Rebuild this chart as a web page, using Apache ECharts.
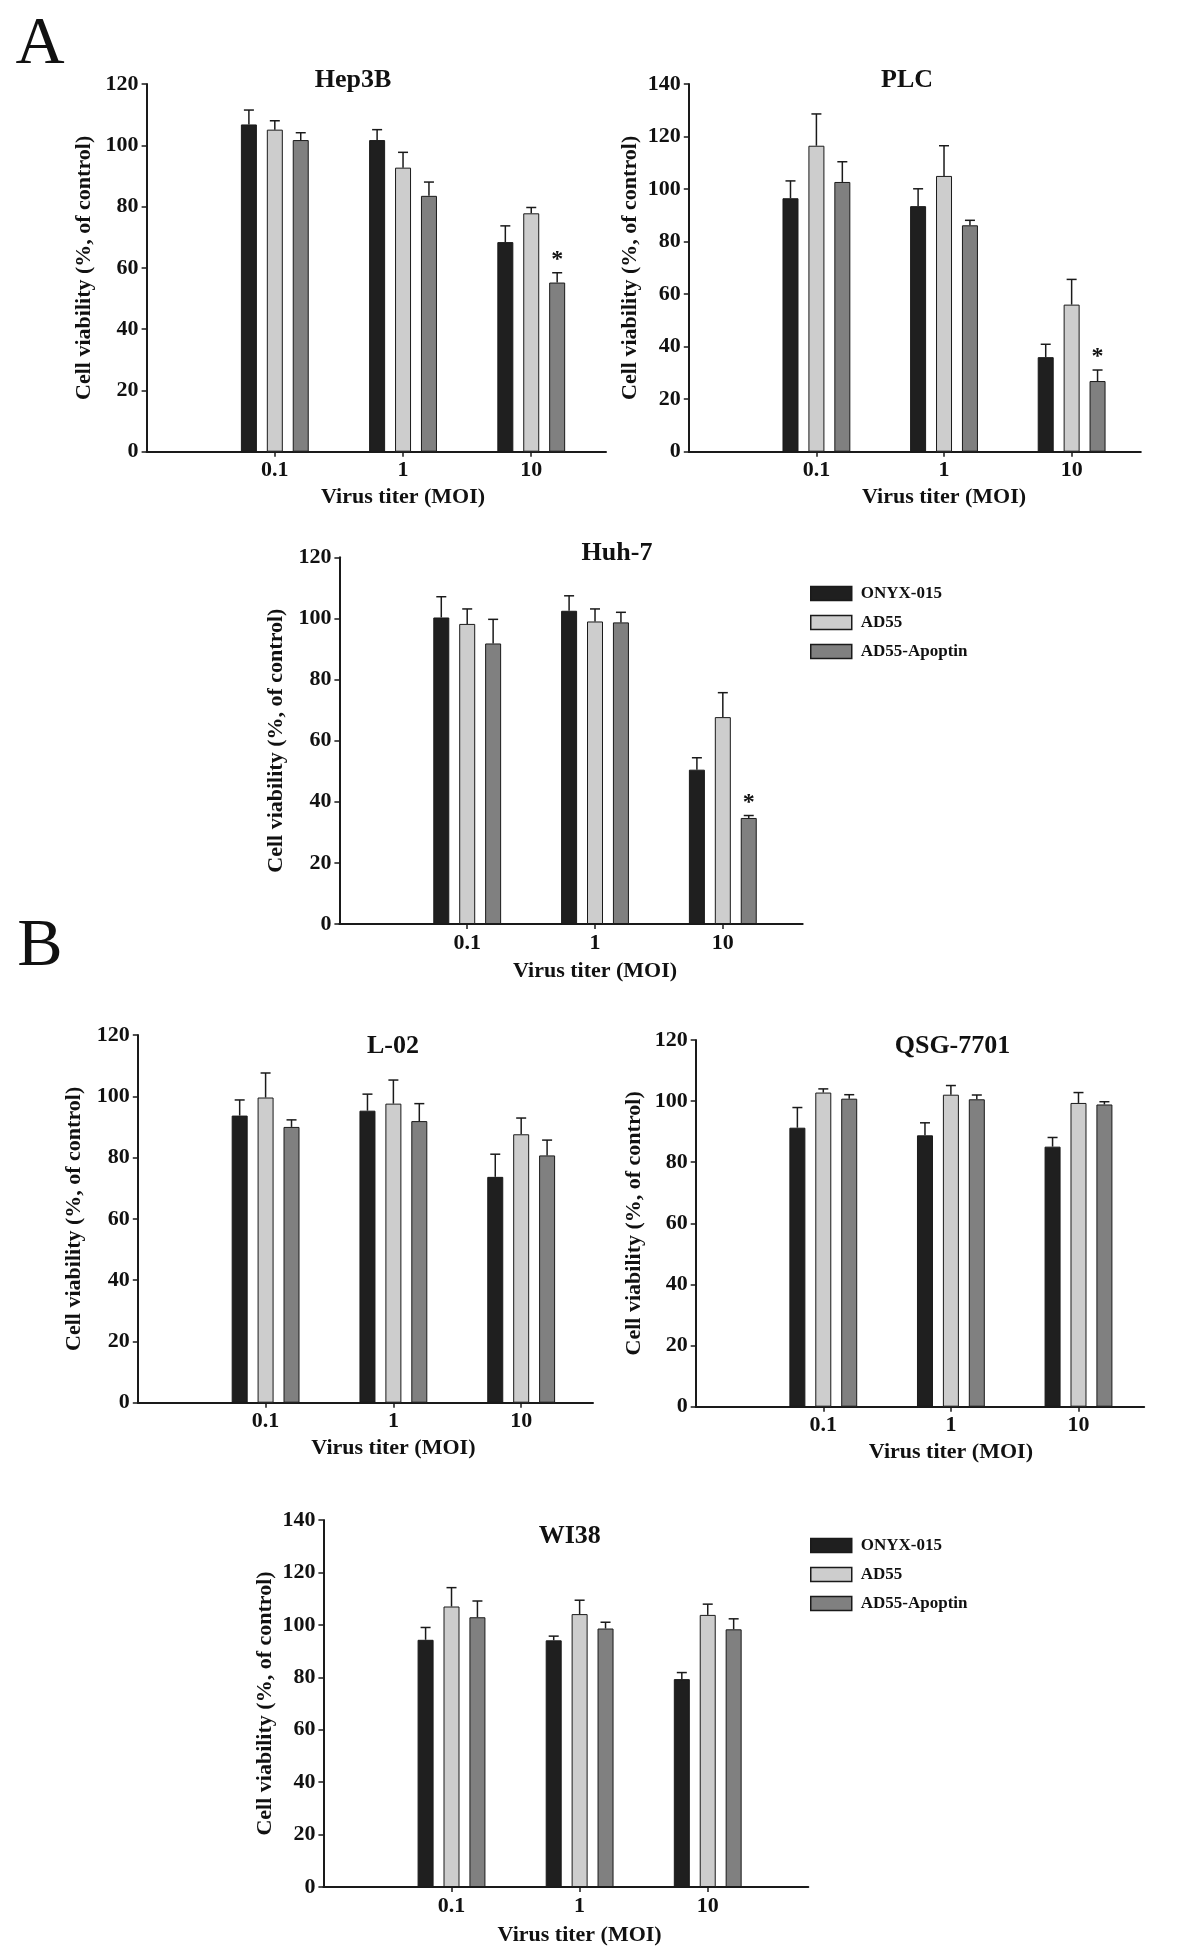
<!DOCTYPE html>
<html><head><meta charset="utf-8">
<script src="https://cdn.jsdelivr.net/npm/echarts@6/dist/echarts.min.js"></script>
<style>html,body{margin:0;padding:0;background:#fff}#chart{width:1200px;height:1953px}</style>
</head><body><div id="chart"></div>
<script>
// ---------- data ----------
const mois = ['0.1', '1', '10'];          // x tick labels (virus titer, MOI)
const moiPositions = [0, 1, 2];
const seriesNames = ['ONYX-015', 'AD55', 'AD55-Apoptin'];
const panelTitles = ['Hep3B', 'PLC', 'Huh-7', 'L-02', 'QSG-7701', 'WI38'];
const yMaxes = [120, 140, 120, 120, 120, 140];
const yInterval = 20;

// means (% of control)
const hep3bOnyx = [106.8, 101.7, 68.4], hep3bAd55 = [105.1, 92.7, 77.8], hep3bApop = [101.7, 83.5, 55.2];
const plcOnyx   = [96.5, 93.5, 36.0],   plcAd55   = [116.5, 105.0, 56.0], plcApop   = [102.7, 86.2, 26.9];
const huh7Onyx  = [100.3, 102.5, 50.5], huh7Ad55  = [98.2, 99.0, 67.7],   huh7Apop  = [91.8, 98.7, 34.7];
const l02Onyx   = [93.7, 95.3, 73.7],   l02Ad55   = [99.6, 97.6, 87.6],   l02Apop   = [90.0, 91.9, 80.7];
const qsgOnyx   = [91.3, 88.8, 85.1],   qsgAd55   = [102.8, 102.1, 99.4], qsgApop   = [100.8, 100.6, 98.9];
const wi38Onyx  = [94.3, 94.1, 79.3],   wi38Ad55  = [107.0, 104.1, 103.8], wi38Apop = [102.9, 98.6, 98.3];

// error bars (upper SD)
const hep3bOnyxErr = [4.7, 3.4, 5.3], hep3bAd55Err = [2.9, 5.0, 1.9], hep3bApopErr = [2.4, 4.5, 3.2];
const plcOnyxErr   = [6.6, 6.6, 4.9], plcAd55Err   = [12.1, 11.5, 9.6], plcApopErr = [7.7, 1.9, 4.2];
const huh7OnyxErr  = [6.8, 4.9, 3.9], huh7Ad55Err  = [4.9, 4.1, 8.0], huh7ApopErr  = [7.9, 3.3, 0.8];
const l02OnyxErr   = [5.1, 5.4, 7.4], l02Ad55Err   = [8.0, 7.7, 5.3], l02ApopErr   = [2.3, 5.7, 5.0];
const qsgOnyxErr   = [6.6, 4.1, 3.0], qsgAd55Err   = [1.2, 3.0, 3.4], qsgApopErr   = [1.3, 1.4, 0.9];
const wi38OnyxErr  = [4.7, 1.6, 2.5], wi38Ad55Err  = [7.2, 5.3, 4.1], wi38ApopErr  = [6.2, 2.4, 4.0];

// significance marks (*): per panel, per series, per MOI
const hep3bStars = [[0,0,0],[0,0,0],[0,0,1]];
const plcStars   = [[0,0,0],[0,0,0],[0,0,1]];
const huh7Stars  = [[0,0,0],[0,0,0],[0,0,1]];
const noStars    = [[0,0,0],[0,0,0],[0,0,0]];

const panelMeans = [
  [hep3bOnyx, hep3bAd55, hep3bApop], [plcOnyx, plcAd55, plcApop], [huh7Onyx, huh7Ad55, huh7Apop],
  [l02Onyx, l02Ad55, l02Apop], [qsgOnyx, qsgAd55, qsgApop], [wi38Onyx, wi38Ad55, wi38Apop]
];
const panelErrs = [
  [hep3bOnyxErr, hep3bAd55Err, hep3bApopErr], [plcOnyxErr, plcAd55Err, plcApopErr], [huh7OnyxErr, huh7Ad55Err, huh7ApopErr],
  [l02OnyxErr, l02Ad55Err, l02ApopErr], [qsgOnyxErr, qsgAd55Err, qsgApopErr], [wi38OnyxErr, wi38Ad55Err, wi38ApopErr]
];
const panelStars = [hep3bStars, plcStars, huh7Stars, noStars, noStars, noStars];

// ---------- layout & style ----------
const layout = [
  {left: 146.6, top: 84,    width: 459.4, height: 367.7, xMax: 2.583, yGap: 51, xGap: 35, tx: 348,   ty: 75},
  {left: 688.8, top: 84,    width: 452,   height: 367.7, xMax: 2.542, yGap: 47, xGap: 35, tx: 902,   ty: 75},
  {left: 339.4, top: 557.3, width: 463.3, height: 366.7, xMax: 2.625, yGap: 52, xGap: 36, tx: 612,   ty: 548},
  {left: 137.8, top: 1035,  width: 455.2, height: 367.7, xMax: 2.562, yGap: 52, xGap: 35, tx: 388,   ty: 1041.7},
  {left: 695.7, top: 1040,  width: 448.5, height: 366.7, xMax: 2.515, yGap: 50, xGap: 35, tx: 947.5, ty: 1041.7},
  {left: 323.4, top: 1520,  width: 484.9, height: 367,   xMax: 2.785, yGap: 47, xGap: 37, tx: 564.7, ty: 1531.7}
];
const FONT = '"Liberation Serif", "Times New Roman", serif';
const colors = ['#1f1f1f', '#cdcdcd', '#808080'];
const INK = '#1a1a1a';
const BAR_W = 16, BAR_GAP = 0.62, BAR_PITCH = BAR_W * (1 + BAR_GAP);

const grids = [], xAxes = [], yAxes = [], series = [], titles = [];
titles.push({text: 'A', left: 35, top: 40, textAlign: 'center', textVerticalAlign: 'middle',
  textStyle: {fontFamily: FONT, fontWeight: 'normal', fontSize: 68, color: '#111'}});
titles.push({text: 'B', left: 35, top: 942, textAlign: 'center', textVerticalAlign: 'middle',
  textStyle: {fontFamily: FONT, fontWeight: 'normal', fontSize: 68, color: '#111'}});

layout.forEach((L, p) => {
  grids.push({left: L.left, top: L.top, width: L.width, height: L.height, containLabel: false});
  const unit = L.width / (L.xMax + 1);
  const nameShift = (1 - (L.xMax - 1) / 2) * unit; // center axis name under middle MOI
  xAxes.push({
    type: 'value', gridIndex: p, min: -1, max: L.xMax, interval: 1,
    name: 'Virus titer (MOI)', nameLocation: 'middle', nameGap: L.xGap,
    nameTextStyle: {fontFamily: FONT, fontWeight: 'bold', fontSize: 22, color: '#111', padding: [0, 0, 0, 2 * nameShift]},
    axisLine: {show: true, onZero: false, lineStyle: {color: INK, width: 2}},
    axisTick: {show: true, length: 5, lineStyle: {color: INK, width: 1.5}, customValues: moiPositions},
    axisLabel: {show: true, margin: 8, fontFamily: FONT, fontWeight: 'bold', fontSize: 22, color: '#111',
      customValues: moiPositions, formatter: v => mois[moiPositions.indexOf(v)] || ''},
    splitLine: {show: false}
  });
  yAxes.push({
    type: 'value', gridIndex: p, min: 0, max: yMaxes[p], interval: yInterval,
    name: 'Cell viability (%, of control)', nameLocation: 'middle', nameRotate: 90, nameGap: L.yGap,
    nameTextStyle: {fontFamily: FONT, fontWeight: 'bold', fontSize: 22, color: '#111'},
    axisLine: {show: true, onZero: false, lineStyle: {color: INK, width: 2}},
    axisTick: {show: true, length: 5, lineStyle: {color: INK, width: 1.5}},
    axisLabel: {show: true, margin: 8, fontFamily: FONT, fontWeight: 'bold', fontSize: 22, color: '#111'},
    splitLine: {show: false}
  });
  titles.push({text: panelTitles[p], left: L.tx, top: L.ty, textAlign: 'center', textVerticalAlign: 'middle',
    textStyle: {fontFamily: FONT, fontWeight: 'bold', fontSize: 26, color: '#111'}});

  const errData = [];
  seriesNames.forEach((name, s) => {
    series.push({
      type: 'bar', name: name, xAxisIndex: p, yAxisIndex: p,
      barWidth: BAR_W, barGap: (BAR_GAP * 100) + '%',
      data: moiPositions.map((x, i) => [x, panelMeans[p][s][i]]),
      itemStyle: {color: colors[s], borderColor: INK, borderWidth: 1},
      z: 2
    });
    moiPositions.forEach((x, i) => errData.push([x, s, panelMeans[p][s][i], panelErrs[p][s][i], panelStars[p][s][i]]));
  });
  series.push({
    type: 'custom', xAxisIndex: p, yAxisIndex: p, silent: true, z: 3,
    encode: {x: 0, y: 2},
    data: errData,
    renderItem: (params, api) => {
      const x = api.value(0), s = api.value(1), m = api.value(2), e = api.value(3), star = api.value(4);
      const base = api.coord([x, m]);
      const top = api.coord([x, m + e]);
      const cx = base[0] + (s - 1) * BAR_PITCH;
      const children = [
        {type: 'line', shape: {x1: cx, y1: base[1], x2: cx, y2: top[1]}, style: {stroke: INK, lineWidth: 1.5}},
        {type: 'line', shape: {x1: cx - 5, y1: top[1], x2: cx + 5, y2: top[1]}, style: {stroke: INK, lineWidth: 1.5}}
      ];
      if (star) {
        children.push({type: 'text', style: {text: '*', x: cx, y: top[1] - 1, align: 'center', verticalAlign: 'bottom',
          font: 'bold 24px ' + FONT, fill: '#111'}});
      }
      return {type: 'group', children: children};
    }
  });
});

const legendBase = {
  data: seriesNames, orient: 'vertical', left: 810, itemWidth: 41, itemHeight: 14, itemGap: 12,
  icon: 'rect', padding: 0, selectedMode: false,
  itemStyle: {borderColor: INK, borderWidth: 1.5},
  textStyle: {fontFamily: FONT, fontWeight: 'bold', fontSize: 17, color: '#111', padding: [0, 0, 0, 4]}
};

const chart = echarts.init(document.getElementById('chart'), null, {renderer: 'canvas'});
chart.setOption({
  animation: false,
  backgroundColor: '#ffffff',
  title: titles,
  legend: [Object.assign({}, legendBase, {top: 585}), Object.assign({}, legendBase, {top: 1537})],
  grid: grids,
  xAxis: xAxes,
  yAxis: yAxes,
  series: series
});
</script>
</body></html>
